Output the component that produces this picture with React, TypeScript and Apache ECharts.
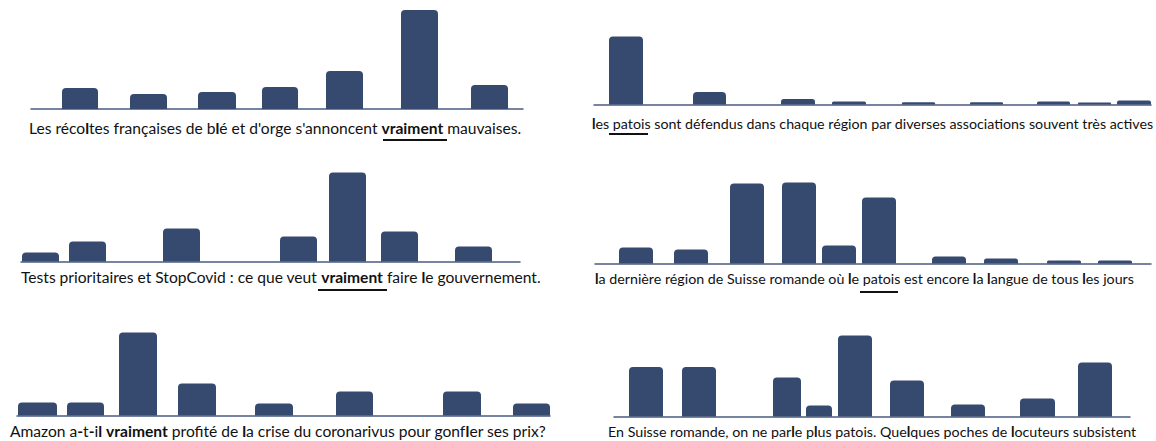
import React, { useEffect, useRef } from "react";
import * as echarts from "echarts";

const BAR_COLOR = "#364a6f";
const LINE_COLOR = "#4a5b82";
const TEXT_COLOR = "#111111";
const FONT = "Lato";
const LEFT_FONT_SIZE = 15.6;
const RIGHT_FONT_SIZE = 14.25;

// Panel 1 (top left)
const s1Text = "Les récoltes françaises de blé et d'orge s'annoncent vraiment mauvaises.";
const s1Bold = "vraiment";
const s1Start = [62, 130, 198, 262, 326, 401, 471];
const s1End = [98, 167, 236, 298, 363, 438, 508];
const s1Values = [21, 15, 17, 22, 38, 99, 24];

// Panel 2 (top right)
const s2Text = "les patois sont défendus dans chaque région par diverses associations souvent très actives";
const s2Bold = "";
const s2Start = [609, 693, 781, 832, 902, 970, 1037, 1078, 1117];
const s2End = [643, 726, 815, 866, 935, 1003, 1070, 1111, 1151];
const s2Values = [68, 12.5, 5.5, 3, 2.3, 2.3, 3, 2, 4];

// Panel 3 (middle left)
const s3Text = "Tests prioritaires et StopCovid : ce que veut vraiment faire le gouvernement.";
const s3Bold = "vraiment";
const s3Start = [22, 69, 163, 280, 329, 381, 455];
const s3End = [59, 106, 200, 317, 366, 418, 492];
const s3Values = [9, 20, 33, 25, 89, 30, 15];

// Panel 4 (middle right)
const s4Text = "la dernière région de Suisse romande où le patois est encore la langue de tous les jours";
const s4Bold = "";
const s4Start = [619, 674, 730, 782, 822, 862, 932, 984, 1047, 1098];
const s4End = [653, 708, 764, 816, 856, 896, 966, 1018, 1081, 1132];
const s4Values = [16, 14, 80, 81, 18, 66, 7, 5, 3, 3];

// Panel 5 (bottom left)
const s5Text = "Amazon a-t-il vraiment profité de la crise du coronarivus pour gonfler ses prix?";
const s5Bold = "vraiment";
const s5Start = [18, 67, 119, 178, 255, 336, 443, 513];
const s5End = [57, 104, 157, 216, 293, 373, 481, 550];
const s5Values = [13, 13, 83, 32, 12, 24, 24, 12];

// Panel 6 (bottom right)
const s6Text = "En Suisse romande, on ne parle plus patois. Quelques poches de locuteurs subsistent";
const s6Bold = "";
const s6Start = [629, 682, 773, 806, 838, 890, 951, 1020, 1078];
const s6End = [663, 716, 801, 832, 872, 924, 985, 1055, 1112];
const s6Values = [49.5, 49.5, 39, 11, 81, 36, 12, 18, 54];

function richify(s: string, bold: string): string {
  let out = "";
  const bi = bold ? s.indexOf(bold) : -1;
  let i = 0;
  while (i < s.length) {
    if (bi >= 0 && i === bi) {
      out += "{b|" + bold + "}";
      i += bold.length;
      continue;
    }
    const c = s[i];
    if (c === "l" || c === "-") out += "{b|" + c + "}";
    else out += c;
    i++;
  }
  return out;
}

type Panel = {
  text: string;
  bold: string;
  start: number[];
  end: number[];
  values: number[];
  axisFrom: number;
  axisTo: number;
  baseline: number;
  textX: number;
  textY: number;
  fontSize: number;
  underline: number[] | null;
};

const panels: Panel[] = [
  { text: s1Text, bold: s1Bold, start: s1Start, end: s1End, values: s1Values, axisFrom: 31, axisTo: 523, baseline: 109, textX: 29, textY: 128, fontSize: LEFT_FONT_SIZE, underline: [383, 447, 140] },
  { text: s2Text, bold: s2Bold, start: s2Start, end: s2End, values: s2Values, axisFrom: 594, axisTo: 1151, baseline: 104.5, textX: 592, textY: 123, fontSize: RIGHT_FONT_SIZE, underline: [609, 648, 134] },
  { text: s3Text, bold: s3Bold, start: s3Start, end: s3End, values: s3Values, axisFrom: 21, axisTo: 520, baseline: 261.5, textX: 21, textY: 277, fontSize: LEFT_FONT_SIZE, underline: [318, 387, 290] },
  { text: s4Text, bold: s4Bold, start: s4Start, end: s4End, values: s4Values, axisFrom: 595, axisTo: 1151, baseline: 263.5, textX: 595, textY: 278, fontSize: RIGHT_FONT_SIZE, underline: [860, 898, 292] },
  { text: s5Text, bold: s5Bold, start: s5Start, end: s5End, values: s5Values, axisFrom: 17, axisTo: 550, baseline: 415.5, textX: 10, textY: 431, fontSize: LEFT_FONT_SIZE, underline: null },
  { text: s6Text, bold: s6Bold, start: s6Start, end: s6End, values: s6Values, axisFrom: 614, axisTo: 1130, baseline: 416.5, textX: 608, textY: 431, fontSize: RIGHT_FONT_SIZE, underline: null },
];

export default function App() {
  const ref = useRef<HTMLDivElement>(null);
  useEffect(() => {
    if (!ref.current) return;
    const chart = echarts.init(ref.current, undefined, { renderer: "svg" });
    const H = 100;
    const grids: any[] = [];
    const xAxes: any[] = [];
    const yAxes: any[] = [];
    const series: any[] = [];
    const graphics: any[] = [];
    panels.forEach((p, k) => {
      grids.push({ left: p.axisFrom, width: p.axisTo - p.axisFrom, top: p.baseline - H, height: H, containLabel: false });
      xAxes.push({
        type: "value", gridIndex: k, min: p.axisFrom, max: p.axisTo,
        axisLine: { show: true, onZero: false, lineStyle: { color: LINE_COLOR, width: 1.5 } },
        axisTick: { show: false }, axisLabel: { show: false }, splitLine: { show: false },
      });
      yAxes.push({
        type: "value", gridIndex: k, min: 0, max: H,
        axisLine: { show: false }, axisTick: { show: false }, axisLabel: { show: false }, splitLine: { show: false },
      });
      series.push({
        type: "custom",
        xAxisIndex: k, yAxisIndex: k,
        encode: { x: [0, 1], y: 2 },
        data: p.values.map((v, i) => [p.start[i], p.end[i], v]),
        renderItem: (params: any, api: any) => {
          const a = api.coord([api.value(0), api.value(2)]);
          const b = api.coord([api.value(1), 0]);
          const h = b[1] - a[1];
          const r = Math.min(4, h / 2);
          return {
            type: "rect",
            shape: { x: a[0], y: a[1], width: b[0] - a[0], height: h, r: [r, r, 0, 0] },
            style: { fill: BAR_COLOR },
          };
        },
      });
      graphics.push({
        type: "text", x: p.textX, y: p.textY, z: 10,
        style: {
          text: richify(p.text, p.bold),
          fontFamily: FONT, fontSize: p.fontSize, fill: TEXT_COLOR,
          verticalAlign: "middle", align: "left",
          rich: { b: { fontFamily: FONT, fontSize: p.fontSize, fontWeight: "bold", fill: TEXT_COLOR } },
        },
      });
      if (p.underline) {
        graphics.push({
          type: "line", z: 10,
          shape: { x1: p.underline[0], y1: p.underline[2], x2: p.underline[1], y2: p.underline[2] },
          style: { stroke: TEXT_COLOR, lineWidth: 2 },
        });
      }
    });
    chart.setOption({
      animation: false,
      backgroundColor: "#ffffff",
      grid: grids,
      xAxis: xAxes,
      yAxis: yAxes,
      series,
      graphic: graphics,
    });
    return () => chart.dispose();
  }, []);
  return (
    <div
      ref={ref}
      style={{ position: "fixed", left: 0, top: 0, width: 1156, height: 441, background: "#fff" }}
    />
  );
}
